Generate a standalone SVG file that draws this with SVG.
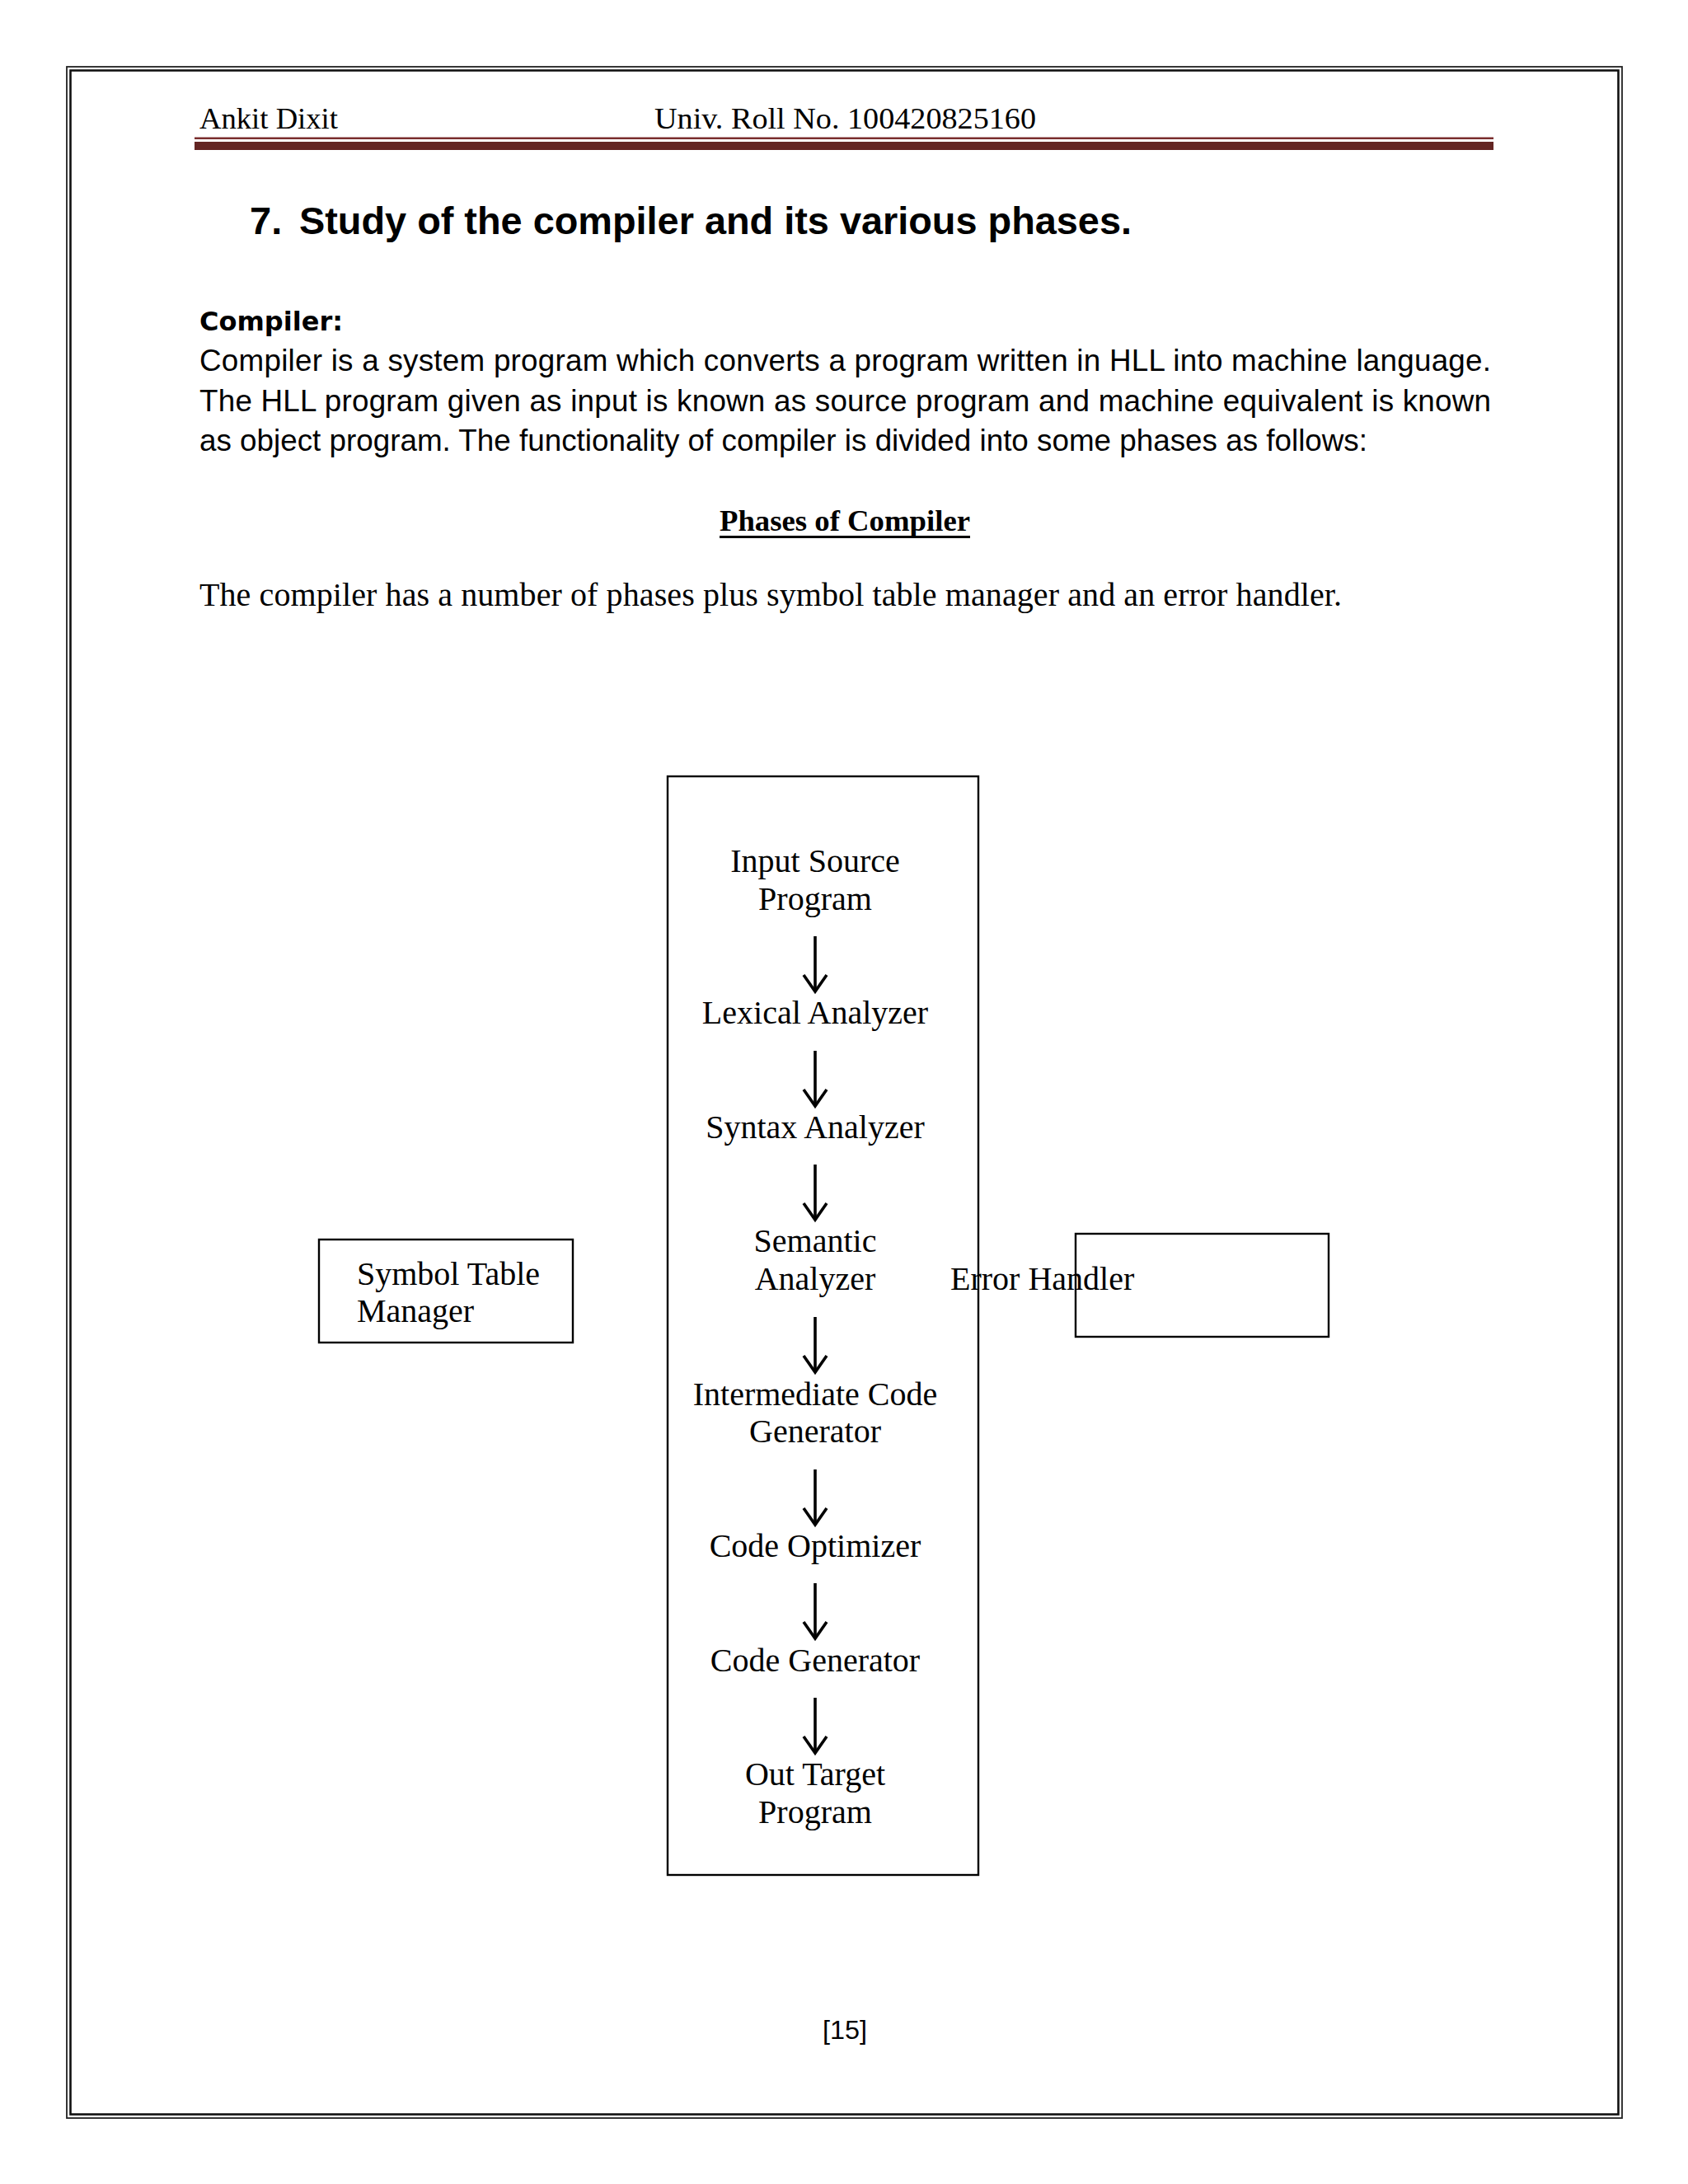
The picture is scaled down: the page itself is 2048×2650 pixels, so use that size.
<svg xmlns="http://www.w3.org/2000/svg" width="2048" height="2650" viewBox="0 0 2048 2650">
<style>
.hdr{font-family:"Liberation Serif",serif;font-size:36px;fill:#000}
.title{font-family:"Liberation Sans",Arial,sans-serif;font-size:47px;font-weight:bold;fill:#000}
.h2{font-family:"DejaVu Sans",sans-serif;font-size:32px;font-weight:bold;fill:#000}
.body{font-family:"Liberation Sans",Arial,sans-serif;font-size:36.8px;fill:#000}
.ser{font-family:"Liberation Serif","Times New Roman",serif;font-size:40px;fill:#000}
.serb{font-family:"Liberation Serif","Times New Roman",serif;font-size:36.8px;font-weight:bold;fill:#000}
.lbl{font-family:"Liberation Serif","Times New Roman",serif;font-size:40px;fill:#000}
.mid{text-anchor:middle}
.box{fill:none;stroke:#000;stroke-width:2.4}
.arr{fill:none;stroke:#000;stroke-width:3.6}
.foot{font-family:"Liberation Sans",Arial,sans-serif;font-size:31px;fill:#000}
</style>
<defs>
<marker id="ah" markerUnits="userSpaceOnUse" viewBox="-24 -17 28 34" refX="0" refY="0" markerWidth="28" markerHeight="34" orient="auto">
<path d="M-20,-14 L0,0 L-20,14" fill="none" stroke="#000" stroke-width="3.6" stroke-linejoin="miter"/>
</marker>
</defs>
<rect width="2048" height="2650" fill="#fff"/>
<g id="page-border">
<rect x="81" y="81" width="1887" height="2489" fill="none" stroke="#222" stroke-width="1.8"/>
<rect x="85.5" y="85.5" width="1878" height="2480" fill="none" stroke="#111" stroke-width="2.6"/>
</g>
<g id="header">
<text class="hdr" x="242" y="156" textLength="168" lengthAdjust="spacingAndGlyphs">Ankit Dixit</text>
<text class="hdr" x="794" y="156" textLength="463" lengthAdjust="spacingAndGlyphs">Univ. Roll No. 100420825160</text>
<rect x="236" y="166.5" width="1576" height="2.5" fill="#7a2e2e"/>
<rect x="236" y="172" width="1576" height="10" fill="#632523"/>
</g>
<g id="text">
<text class="title" x="303" y="284">7.</text>
<text class="title" x="363" y="284" textLength="1010" lengthAdjust="spacingAndGlyphs">Study of the compiler and its various phases.</text>
<text class="h2" x="242" y="401" textLength="174" lengthAdjust="spacingAndGlyphs">Compiler:</text>
<text class="body" x="242" y="450" textLength="1567" lengthAdjust="spacing">Compiler is a system program which converts a program written in HLL into machine language.</text>
<text class="body" x="242" y="498.5" textLength="1567" lengthAdjust="spacing">The HLL program given as input is known as source program and machine equivalent is known</text>
<text class="body" x="242" y="547" textLength="1417" lengthAdjust="spacing">as object program. The functionality of compiler is divided into some phases as follows:</text>
<text class="serb" x="873" y="644" textLength="304" lengthAdjust="spacingAndGlyphs">Phases of Compiler</text>
<rect x="873" y="650" width="304" height="3" fill="#000"/>
<text class="ser" x="242" y="735" textLength="1386" lengthAdjust="spacing">The compiler has a number of phases plus symbol table manager and an error handler.</text>
<text class="foot" x="998" y="2474" textLength="54" lengthAdjust="spacingAndGlyphs">[15]</text>
</g>
<g id="phases-box">
<rect class="box" x="810" y="942" width="377" height="1333"/>
</g>
<g id="input-source">
<text class="lbl mid" x="989" y="1058">Input Source</text>
<text class="lbl mid" x="989" y="1104">Program</text>
</g>
<g id="lexical-analyzer">
<text class="lbl mid" x="989" y="1242">Lexical Analyzer</text>
</g>
<g id="syntax-analyzer">
<text class="lbl mid" x="989" y="1381">Syntax Analyzer</text>
</g>
<g id="semantic-analyzer">
<text class="lbl mid" x="989" y="1519">Semantic</text>
<text class="lbl mid" x="989" y="1565">Analyzer</text>
</g>
<g id="intermediate-code-generator">
<text class="lbl mid" x="989" y="1705">Intermediate Code</text>
<text class="lbl mid" x="989" y="1750">Generator</text>
</g>
<g id="code-optimizer">
<text class="lbl mid" x="989" y="1889">Code Optimizer</text>
</g>
<g id="code-generator">
<text class="lbl mid" x="989" y="2028">Code Generator</text>
</g>
<g id="out-target">
<text class="lbl mid" x="989" y="2166">Out Target</text>
<text class="lbl mid" x="989" y="2212">Program</text>
</g>
<g id="symbol-table-manager">
<rect class="box" x="387" y="1504" width="308" height="125"/>
<text class="lbl" x="433" y="1559">Symbol Table</text>
<text class="lbl" x="433" y="1604">Manager</text>
</g>
<g id="error-handler">
<rect class="box" x="1305" y="1497" width="307" height="125"/>
<text class="lbl" x="1153" y="1565">Error Handler</text>
</g>
<g id="connectors">
<line class="arr" x1="989" y1="1136" x2="989" y2="1203" marker-end="url(#ah)"/>
<line class="arr" x1="989" y1="1275" x2="989" y2="1342" marker-end="url(#ah)"/>
<line class="arr" x1="989" y1="1413" x2="989" y2="1480" marker-end="url(#ah)"/>
<line class="arr" x1="989" y1="1598" x2="989" y2="1665" marker-end="url(#ah)"/>
<line class="arr" x1="989" y1="1783" x2="989" y2="1850" marker-end="url(#ah)"/>
<line class="arr" x1="989" y1="1921" x2="989" y2="1988" marker-end="url(#ah)"/>
<line class="arr" x1="989" y1="2060" x2="989" y2="2127" marker-end="url(#ah)"/>
</g>
</svg>
